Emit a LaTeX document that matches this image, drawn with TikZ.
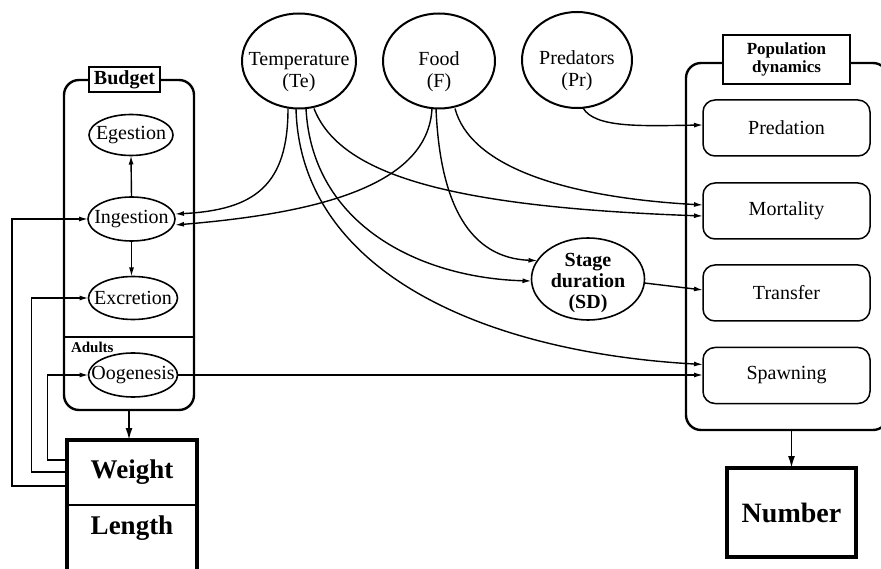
\documentclass[tikz,border=0pt]{standalone}
\usepackage{fontspec}
\setmainfont{Liberation Serif}
\usetikzlibrary{arrows.meta,shapes.geometric,calc}
\begin{document}
\begin{tikzpicture}[x=1pt,y=-1pt,
  every node/.style={inner sep=0pt, outer sep=0pt},
  txt/.style={font=\fontsize{20}{22}\selectfont, align=center},
  btxt/.style={font=\bfseries\fontsize{20}{21}\selectfont, align=center},
  bud/.style={draw, ellipse, line width=1.6pt},
  circ/.style={draw, ellipse, line width=2pt},
  pbox/.style={draw, rounded corners=12pt, line width=1.5pt, minimum width=167pt, minimum height=56pt, txt},
  arr/.style={line width=1.4pt, -{Latex[length=9pt,width=5pt]}},
  bigarr/.style={line width=1.8pt, -{Latex[length=12pt,width=7pt]}},
  frame/.style={draw, line width=2.4pt, rounded corners=15pt},
  labbox/.style={draw, fill=white, line width=2.2pt},
]
\useasboundingbox (0,0) rectangle (881,569);
\clip (0,0) rectangle (881,569);

% ---------- Budget ----------
\node[frame, minimum width=130pt, minimum height=330pt] (budget) at (129,245) {};
\node[labbox, minimum width=71pt, minimum height=25pt, font=\bfseries\fontsize{20}{22}\selectfont] (budlab) at (124.5,79.5) {Budget};
\draw[line width=1.6pt] (64,337) -- (194,337);
\node[anchor=west, font=\bfseries\fontsize{15}{16}\selectfont] (adults) at (71,347) {Adults};

\node[bud, minimum width=84pt, minimum height=41pt] (eg) at (131,135) {};
\node[txt] (egT) at (eg) {Egestion};
\node[bud, minimum width=87pt, minimum height=44pt] (ing) at (131.5,219) {};
\node[txt] (ingT) at (ing) {Ingestion};
\node[bud, minimum width=89pt, minimum height=43pt] (exc) at (133,298) {};
\node[txt] (excT) at (exc) {Excretion};
\node[bud, minimum width=89pt, minimum height=44pt] (oog) at (133,375) {};
\node[txt] (oogT) at (oog) {Oogenesis};

\draw[arr] (ing.north) -- (eg.south);
\draw[arr] (ing.south) -- (ing.south |- exc.north);

% ---------- Weight / Length ----------
\node[minimum width=130pt, minimum height=65pt, font=\bfseries\fontsize{27}{30}\selectfont] (weight) at (132,472) {Weight};
\node[font=\bfseries\fontsize{27}{30}\selectfont] (length) at (132,528) {Length};
\draw[line width=3.5pt] (67,580) -- (67,440) -- (197,440) -- (197,580);
\draw[line width=2.5pt] (67,505) -- (197,505);
\coordinate (wtop) at (129,440);
\draw[bigarr] (budget.south) -- (wtop);

\draw[arr] ([yshift=12pt]weight.west) -| ([xshift=-41pt]oog.west) -- (oog.west);
\draw[arr] (weight.west) -| ([xshift=-57pt]exc.west) -- (exc.west);
\draw[arr] ([yshift=-14pt]weight.west) -| ([xshift=-76pt]ing.west) -- (ing.west);

% ---------- Drivers ----------
\node[circ, minimum width=114pt, minimum height=95pt] (temp) at (299,61) {};
\node[txt] (tempT) at ([yshift=-11pt]temp.center) {Temperature\\(Te)};
\node[circ, minimum width=112pt, minimum height=95pt] (food) at (439,61) {};
\node[txt] (foodT) at ([yshift=-11pt]food.center) {Food\\(F)};
\node[circ, minimum width=110pt, minimum height=96pt] (pred) at (577,60) {};
\node[txt] (predT) at ([yshift=-11pt]pred.center) {Predators\\(Pr)};

% ---------- Population dynamics ----------
\node[frame, minimum width=202pt, minimum height=367pt] (pop) at (787,246.5) {};
\node[labbox, minimum width=127pt, minimum height=49pt, align=center, font=\bfseries\fontsize{17}{18}\selectfont] (poplab) at (786.5,59.5) {Population\\dynamics};
\node[pbox] (predbox) at (786.5,128) {Predation};
\node[pbox] (mort) at (786.5,211) {Mortality};
\node[pbox] (trans) at (786.5,293) {Transfer};
\node[pbox] (spawn) at (786.5,375.5) {Spawning};

\node[draw, line width=4pt, minimum width=129pt, minimum height=89pt, font=\bfseries\fontsize{28}{30}\selectfont] (num) at (791.5,512.5) {Number};
\draw[bigarr] (num.north |- pop.south) -- (num.north);

% ---------- Stage duration ----------
\node[bud, minimum width=113pt, minimum height=82pt] (sd) at (588,279) {};
\node[btxt] (sdT) at ([yshift=-4pt]sd.center) {Stage\\duration\\(SD)};

% ---------- Connectors ----------
\draw[arr] ([xshift=-11pt]temp.south) .. controls (288,185) and (255,210) .. ([yshift=5pt]ing.east);
\draw[arr] ([xshift=-7pt]food.south) .. controls (428,185) and (320,213) .. ([yshift=-6pt]ing.east);
\draw[arr] ([xshift=-3pt]temp.south) .. controls (300,270) and (480,352) .. ([yshift=11pt]spawn.west);
\draw[arr] ([xshift=7pt]temp.south) .. controls (312,225) and (420,278) .. ([yshift=-2pt]sd.west);
\draw[arr] ([xshift=15pt]temp.south) .. controls (340,175) and (450,207) .. ([yshift=-5pt]mort.west);
\draw[arr] ([xshift=-3pt]food.south) .. controls (440,205) and (470,258) .. (sd.160);
\draw[arr] ([xshift=16pt]food.south) .. controls (470,165) and (560,197) .. ([yshift=6pt]mort.west);
\draw[arr] ([xshift=6pt]pred.south) .. controls (595,128) and (640,126) .. ([yshift=3pt]predbox.west);
\draw[arr] ([yshift=-4pt]sd.east) -- ([yshift=3pt]trans.west);
\draw[arr] (oog.east) -- (oog.east -| spawn.west);
\end{tikzpicture}
\end{document}
